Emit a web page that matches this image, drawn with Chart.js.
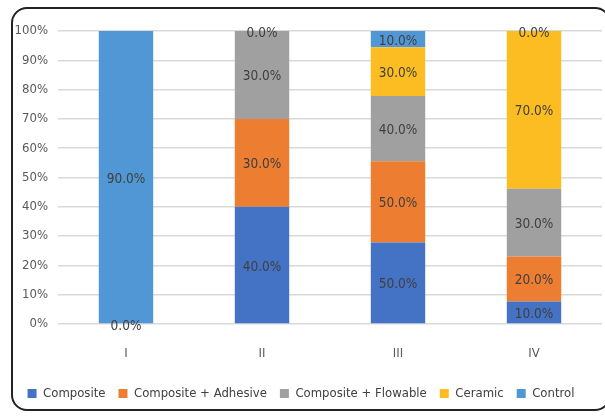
<!DOCTYPE html>
<html>
<head>
<meta charset="utf-8">
<script src="https://cdn.jsdelivr.net/npm/chart.js@4/dist/chart.umd.min.js"></script>
<style>
  html, body { margin: 0; padding: 0; background: #fff; }
  #wrap { position: relative; width: 605px; height: 418px; }
  #frame {
    position: absolute; left: 11px; top: 7px; width: 600px; height: 404px;
    border: 2px solid #222; border-radius: 16px; box-sizing: border-box;
  }
  #c { position: absolute; left: 0; top: 0; }
</style>
</head>
<body>
<div id="wrap">
  <div id="frame"></div>
  <canvas id="c" width="605" height="418"></canvas>
</div>
<script>
// raw values shown in the labels (percent of each group)
const groups     = ['I', 'II', 'III', 'IV'];
const composite  = [0, 40, 50, 10];
const adhesive   = [null, 30, 50, 20];
const flowable   = [null, 30, 40, 30];
const ceramic    = [null, 0, 30, 70];
const control    = [90, null, 10, 0];

const SERIES = [
  { label: 'Composite',            raw: composite, color: '#4472c4' },
  { label: 'Composite + Adhesive', raw: adhesive,  color: '#ed7d31' },
  { label: 'Composite + Flowable', raw: flowable,  color: '#a0a0a0' },
  { label: 'Ceramic',              raw: ceramic,   color: '#fcbd22' },
  { label: 'Control',              raw: control,   color: '#5197d5' },
];

const FONT = "'DejaVu Sans Condensed', 'Liberation Sans', sans-serif";

// 100% stacked: each bar is scaled to its group total
const totals = groups.map((_, i) => SERIES.reduce((s, d) => s + (d.raw[i] || 0), 0));

const datasets = SERIES.map(s => ({
  label: s.label,
  raw: s.raw,
  data: s.raw.map((v, i) => v == null ? null : v / totals[i] * 100),
  backgroundColor: s.color,
  borderWidth: 0,
  categoryPercentage: 1,
  barPercentage: 0.4,
}));

/** Draw the raw value in the middle of every segment */
const valueLabels = {
  id: 'valueLabels',
  afterDatasetsDraw(chart) {
    const ctx = chart.ctx;
    ctx.save();
    ctx.font = '13.5px ' + FONT;
    ctx.fillStyle = '#404040';
    ctx.textAlign = 'center';
    ctx.textBaseline = 'middle';
    chart.data.datasets.forEach((ds, di) => {
      const meta = chart.getDatasetMeta(di);
      meta.data.forEach((bar, i) => {
        const v = ds.raw[i];
        if (v == null) return;
        const y = (bar.y + bar.base) / 2;
        ctx.fillText(v.toFixed(1) + '%', bar.x, y + 2);
      });
    });
    ctx.restore();
  }
};

new Chart(document.getElementById('c'), {
  type: 'bar',
  data: { labels: groups, datasets },
  plugins: [valueLabels],
  options: {
    responsive: false,
    animation: false,
    layout: { padding: { top: 31, right: 3, bottom: 8, left: 0 } },
    plugins: {
      tooltip: { enabled: false },
      legend: {
        position: 'bottom',
        labels: {
          color: '#404040',
          font: { family: FONT, size: 13 },
          boxWidth: 9, boxHeight: 9,
          padding: 13,
        },
      },
    },
    scales: {
      x: {
        stacked: true,
        afterFit: s => { s.height = 50; },
        grid: { display: false },
        border: { display: false },
        ticks: { color: '#595959', font: { family: FONT, size: 13 }, padding: 14 },
      },
      y: {
        stacked: true,
        min: 0, max: 100,
        afterFit: s => { s.width = 58; },
        grid: { color: '#d9d9d9', lineWidth: 1.5, drawTicks: false },
        border: { display: false },
        ticks: {
          stepSize: 10,
          color: '#595959',
          font: { family: FONT, size: 13 },
          padding: 10,
          callback: v => v + '%',
        },
      },
    },
  },
});
</script>
</body>
</html>
